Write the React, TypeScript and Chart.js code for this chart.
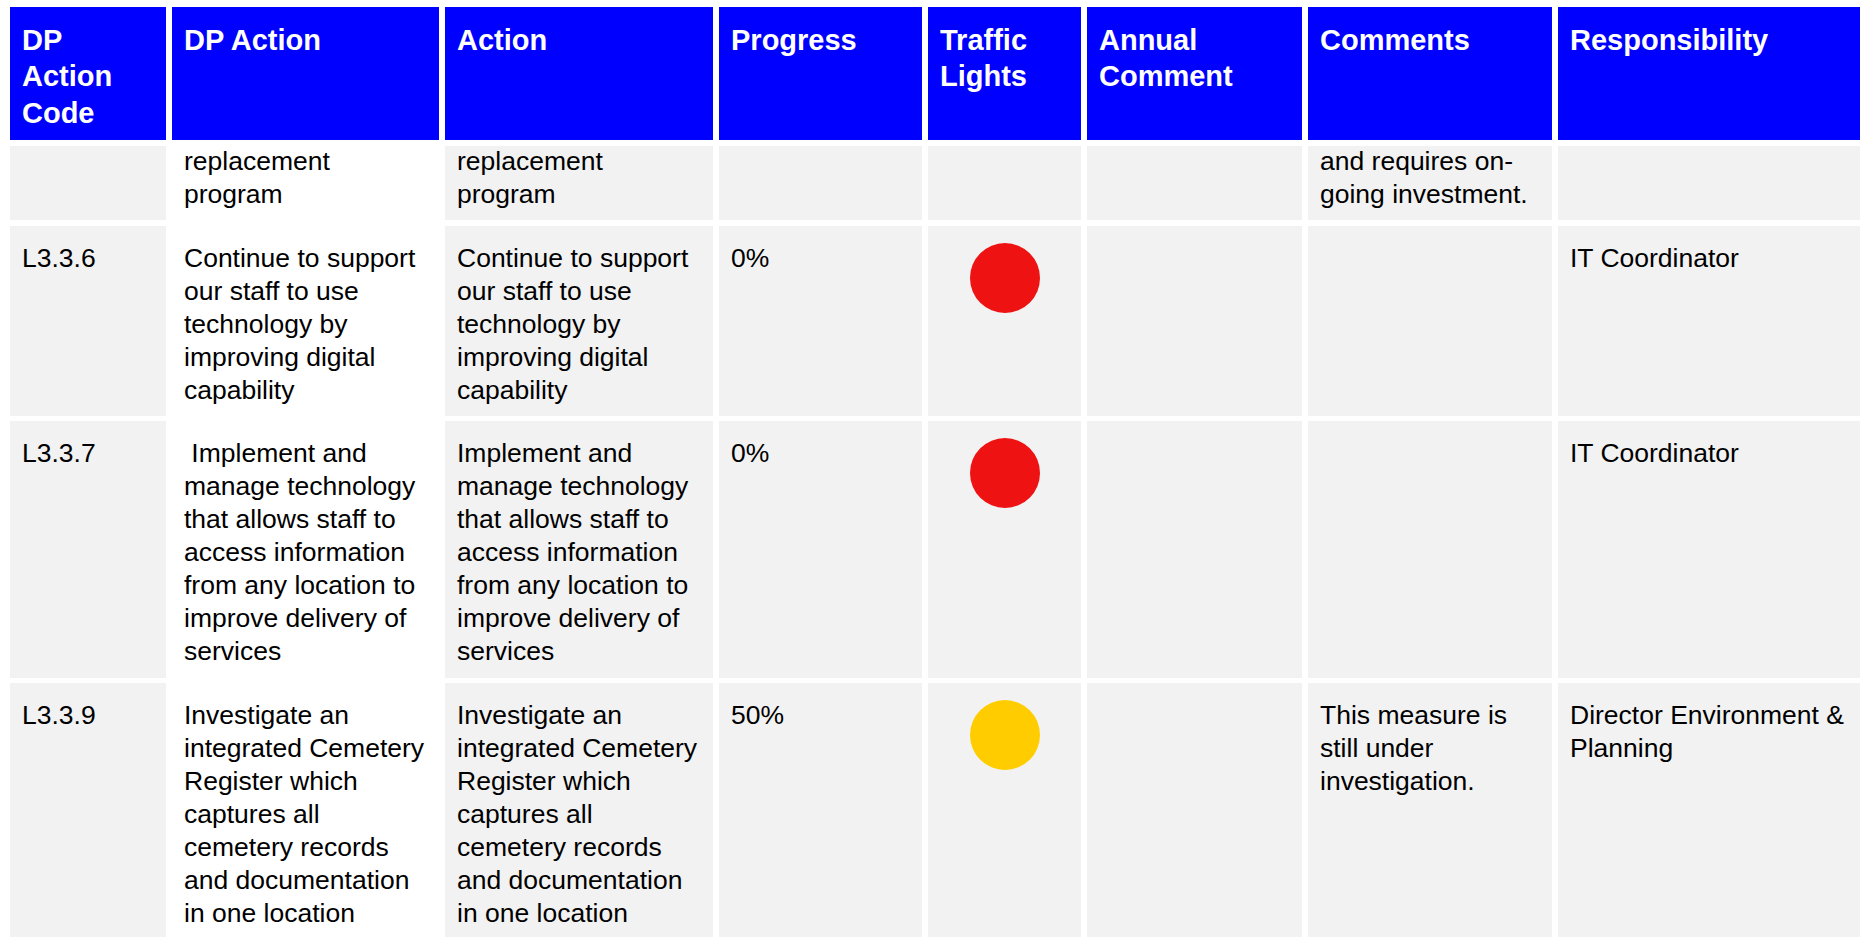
import React, { useEffect, useRef } from "react";
import { Chart, registerables } from "chart.js";

Chart.register(...registerables);

// ---- Data ----
const headers = ["DP\nAction\nCode", "DP Action", "Action", "Progress", "Traffic\nLights", "Annual\nComment", "Comments", "Responsibility"];
const codes = ["", "L3.3.6", "L3.3.7", "L3.3.9"];
const dpActions = [
  "replacement\nprogram",
  "Continue to support\nour staff to use\ntechnology by\nimproving digital\ncapability",
  " Implement and\nmanage technology\nthat allows staff to\naccess information\nfrom any location to\nimprove delivery of\nservices",
  "Investigate an\nintegrated Cemetery\nRegister which\ncaptures all\ncemetery records\nand documentation\nin one location",
];
const actions = [
  "replacement\nprogram",
  "Continue to support\nour staff to use\ntechnology by\nimproving digital\ncapability",
  "Implement and\nmanage technology\nthat allows staff to\naccess information\nfrom any location to\nimprove delivery of\nservices",
  "Investigate an\nintegrated Cemetery\nRegister which\ncaptures all\ncemetery records\nand documentation\nin one location",
];
const progress = ["", "0%", "0%", "50%"];
const trafficLights: (string | null)[] = [null, "red", "red", "amber"];
const annualComments = ["", "", "", ""];
const comments = ["and requires on-\ngoing investment.", "", "", "This measure is\nstill under\ninvestigation."];
const responsibility = ["", "IT Coordinator", "IT Coordinator", "Director Environment &\nPlanning"];

const lightColors: Record<string, string> = { red: "#EE1212", amber: "#FFCC00", green: "#00B050" };

// ---- Layout ----
const colEdges: [number, number][] = [
  [10, 166], [172, 439], [445, 713], [719, 922], [928, 1081], [1087, 1302], [1308, 1552], [1558, 1900],
];
const rowEdges: [number, number][] = [
  [7, 140], [146, 219.5], [226, 415.7], [421, 677.7], [683, 980],
];

function TrafficLight({ status }: { status: string }) {
  const ref = useRef<HTMLCanvasElement | null>(null);
  useEffect(() => {
    if (!ref.current) return;
    const chart = new Chart(ref.current, {
      type: "pie",
      data: {
        labels: [status],
        datasets: [{ data: [1], backgroundColor: [lightColors[status]], borderWidth: 0 }],
      },
      options: {
        responsive: false,
        animation: false,
        events: [],
        layout: { padding: 0 },
        plugins: { legend: { display: false }, tooltip: { enabled: false } },
      },
    });
    return () => chart.destroy();
  }, [status]);
  return <canvas ref={ref} width={70} height={70} style={{ display: "block", width: 70, height: 70 }} />;
}

export default function App() {
  const bodyCols = [codes, dpActions, actions, progress, null, annualComments, comments, responsibility];
  const cells: React.ReactNode[] = [];

  headers.forEach((h, c) => {
    const [x0, x1] = colEdges[c];
    const [y0, y1] = rowEdges[0];
    cells.push(
      <div
        key={"h" + c}
        style={{
          position: "absolute", left: x0, top: y0, width: x1 - x0, height: y1 - y0,
          background: "#0000FF", color: "#FFFFFF", fontWeight: "bold", fontSize: 29,
          lineHeight: "36.5px", whiteSpace: "pre", boxSizing: "border-box",
          paddingTop: 14.7, paddingLeft: 12, overflow: "hidden",
        }}
      >
        {h}
      </div>
    );
  });

  for (let r = 0; r < codes.length; r++) {
    const [y0, y1] = rowEdges[r + 1];
    for (let c = 0; c < headers.length; c++) {
      const [x0, x1] = colEdges[c];
      const col = bodyCols[c];
      const isLight = c === 4;
      const status = trafficLights[r];
      cells.push(
        <div
          key={"c" + r + "_" + c}
          style={{
            position: "absolute", left: x0, top: y0, width: x1 - x0, height: y1 - y0,
            background: c === 1 ? "#FFFFFF" : "#F2F2F2", color: "#000000", fontSize: 26.5,
            lineHeight: "33px", whiteSpace: "pre", boxSizing: "border-box",
            paddingTop: r === 0 ? 0 : 16.3, paddingLeft: 12, overflow: "hidden",
          }}
        >
          {isLight ? (
            status ? (
              <div style={{ position: "absolute", top: 17, left: (x1 - x0) / 2 - 35 }}>
                <TrafficLight status={status} />
              </div>
            ) : null
          ) : (
            <div style={{ marginTop: r === 0 ? -1.5 : 0 }}>{col ? col[r] : ""}</div>
          )}
        </div>
      );
    }
  }

  return (
    <div
      style={{
        position: "fixed", left: 0, top: 0, width: 1860, height: 937, overflow: "hidden",
        background: "#FFFFFF", fontFamily: "'Liberation Sans', Arial, sans-serif",
      }}
    >
      {cells}
    </div>
  );
}
